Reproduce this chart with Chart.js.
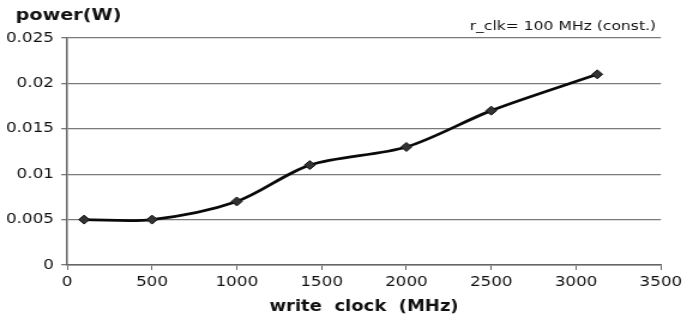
<!DOCTYPE html>
<html>
<head>
<meta charset="utf-8">
<script src="https://cdn.jsdelivr.net/npm/chart.js@4.4.0/dist/chart.umd.min.js"></script>
<style>
  html, body { margin: 0; padding: 0; background: #fff; overflow: hidden; }
  /* the reference is a horizontally stretched screenshot, so draw narrow and stretch */
  #wrap { width: 573px; height: 322px; transform: scaleX(1.199); transform-origin: 0 0; }
</style>
</head>
<body>
<div id="wrap"><canvas id="chart" width="573" height="322"></canvas></div>
<script>
// =============================================================================
// DATA
// =============================================================================

const writeClock = [100, 500, 1000, 1430, 2000, 2500, 3125];   // MHz
const power = [0.005, 0.005, 0.007, 0.011, 0.013, 0.017, 0.021]; // W

const xTickLabels = ['0', '500', '1000', '1500', '2000', '2500', '3000', '3500'];
const yTickLabels = ['0', '0.005', '0.01', '0.015', '0.02', '0.025'];

const yTitle = 'power(W)';
const xTitle = 'write  clock  (MHz)';
const note = 'r_clk= 100 MHz (const.)';

// =============================================================================
// CHART
// =============================================================================

const FONT = "'DejaVu Sans', Verdana, sans-serif";
const GRID = '#7a7a7a';
const AXIS = '#666';

// Draws the y-axis caption in the top-left and the note in the top-right
const captions = {
  id: 'captions',
  afterDraw(chart) {
    const ctx = chart.ctx;
    ctx.save();
    ctx.fillStyle = '#111';
    ctx.textBaseline = 'middle';
    ctx.font = 'bold 16px ' + FONT;
    ctx.textAlign = 'left';
    ctx.fillText(yTitle, 13, 16);
    ctx.font = '13px ' + FONT;
    ctx.textAlign = 'right';
    ctx.fillText(note, chart.chartArea.right - 4, 27);
    ctx.restore();
  }
};

new Chart(document.getElementById('chart'), {
  type: 'line',
  data: {
    datasets: [{
      data: writeClock.map((x, i) => ({ x: x, y: power[i] })),
      borderColor: '#0a0a0a',
      borderWidth: 2.8,
      tension: 0.3,
      pointStyle: 'rectRot',
      pointRadius: 4.5,
      pointBackgroundColor: '#333',
      pointBorderColor: '#111',
      pointBorderWidth: 1
    }]
  },
  options: {
    responsive: false,
    animation: false,
    layout: { padding: { top: 38, right: 19, bottom: 0, left: 0 } },
    plugins: { legend: { display: false }, tooltip: { enabled: false } },
    scales: {
      x: {
        type: 'linear',
        min: 0,
        max: 3500,
        afterFit: (scale) => { scale.height = 57; },
        afterBuildTicks: (scale) => {
          scale.ticks = xTickLabels.map(t => ({ value: Number(t) }));
        },
        border: { color: AXIS, width: 1.5 },
        grid: { drawOnChartArea: false, drawTicks: true, tickLength: 5, color: AXIS },
        ticks: {
          color: '#111',
          font: { family: FONT, size: 14 },
          padding: 4,
          maxRotation: 0,
          callback: (v, i) => xTickLabels[i]
        },
        title: {
          display: true,
          text: xTitle,
          color: '#111',
          font: { family: FONT, size: 15, weight: 'bold' },
          padding: { top: 0, bottom: 6 }
        }
      },
      y: {
        min: 0,
        max: 0.025,
        afterFit: (scale) => { scale.width = 56; },
        afterBuildTicks: (scale) => {
          scale.ticks = yTickLabels.map((t, i) => ({ value: i * 0.005 }));
        },
        border: { color: AXIS, width: 1.5 },
        grid: { color: GRID, lineWidth: 1.3, drawTicks: true, tickLength: 5 },
        ticks: {
          color: '#111',
          font: { family: FONT, size: 14 },
          padding: 6,
          callback: (v, i) => yTickLabels[i]
        }
      }
    }
  },
  plugins: [captions]
});
</script>
</body>
</html>
